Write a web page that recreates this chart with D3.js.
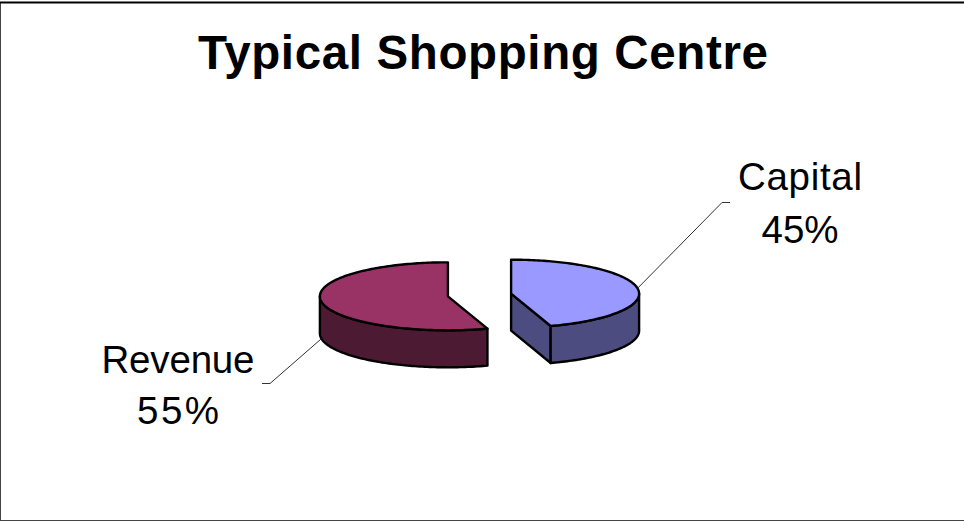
<!DOCTYPE html>
<html><head><meta charset="utf-8">
<script src="https://cdn.jsdelivr.net/npm/d3@7"></script>
<style>html,body{margin:0;padding:0;background:#fff;}svg{display:block;}</style>
</head><body>
<script>
// ---- data ----
const title = "Typical Shopping Centre";
const categories = ["Capital", "Revenue"];
const values = [45, 55];
const percentLabels = ["45%", "55%"];

// ---- styles / layout ----
const topColors = ["#9999ff", "#993366"];
const sideColors = ["#4c4c80", "#4c1a33"];
const W = 964, H = 522;
const cx = 479.5, cy = 295, rx = 128, ry = 34, depth = 37, explode = 32;
const font = "'Liberation Sans', Arial, sans-serif";
// label layout
const labelLayout = [
  {x: 800, b1: 189.5, b2: 242.5, w1: 124, w2: 77, ex0: 730, ex1: 722, ey: 202.5},
  {x: 178, b1: 372.5, b2: 424, w1: 153, w2: 82, ex0: 262, ex1: 270, ey: 383.5}
];

const svg = d3.select("body").append("svg").attr("width", W).attr("height", H);

// frame
svg.append("rect").attr("x", 0.5).attr("y", 2.5).attr("width", W + 2).attr("height", 518)
  .attr("fill", "#fff").attr("stroke", "#444").attr("stroke-width", 1);
svg.append("line").attr("x1", 0).attr("x2", W).attr("y1", 2.5).attr("y2", 2.5)
  .attr("stroke", "#000").attr("stroke-width", 2);

// title
svg.append("text").attr("x", 483).attr("y", 68.5).attr("text-anchor", "middle")
  .attr("font-family", font).attr("font-weight", "bold").attr("font-size", 47.5)
  .attr("textLength", 570).attr("lengthAdjust", "spacing")
  .attr("fill", "#000").text(title);

const pie = d3.pie().sort(null).startAngle(0).endAngle(2 * Math.PI);
const arcs = pie(values);

const line = d3.line();
function pt(c, a, dz) { return [c[0] + rx * Math.sin(a), c[1] - ry * Math.cos(a) + (dz || 0)]; }
function arcPts(c, a0, a1, dz) {
  const n = Math.max(2, Math.ceil((a1 - a0) / 0.02));
  return d3.range(n + 1).map(i => pt(c, a0 + (a1 - a0) * i / n, dz));
}

const g = svg.append("g");
const strokeW = 2.4;

arcs.forEach((d, i) => {
  const a0 = d.startAngle, a1 = d.endAngle, mid = (a0 + a1) / 2;
  const c = [cx + explode * Math.sin(mid), cy - explode * Math.cos(mid) * ry / rx];
  const sg = g.append("g");
  // radial faces
  [[a0, a0 - Math.PI / 2], [a1, a1 + Math.PI / 2]].forEach(([a, nrm]) => {
    if (Math.cos(nrm) < -1e-6) {
      const p = pt(c, a), q = pt(c, a, depth);
      sg.append("path").attr("d", line([c, p, q, [c[0], c[1] + depth]]) + "Z")
        .attr("fill", sideColors[i]).attr("stroke", "#000").attr("stroke-width", strokeW)
        .attr("stroke-linejoin", "round");
    }
  });
  // outer wall (front half)
  const w0 = Math.max(a0, Math.PI / 2), w1 = Math.min(a1, 3 * Math.PI / 2);
  if (w1 > w0) {
    const top = arcPts(c, w0, w1, 0), bot = arcPts(c, w0, w1, depth).reverse();
    sg.append("path").attr("d", line(top.concat(bot)) + "Z")
      .attr("fill", sideColors[i]).attr("stroke", "#000").attr("stroke-width", strokeW)
      .attr("stroke-linejoin", "round");
  }
  // top face
  sg.append("path").attr("d", line([c].concat(arcPts(c, a0, a1, 0))) + "Z")
    .attr("fill", topColors[i]).attr("stroke", "#000").attr("stroke-width", strokeW)
    .attr("stroke-linejoin", "round");

  // leader line
  const L = labelLayout[i];
  const anchor = pt(c, mid, Math.cos(mid) < 0 ? depth : 0);
  svg.append("path").attr("d", line([[L.ex0, L.ey], [L.ex1, L.ey], anchor]))
    .attr("fill", "none").attr("stroke", "#333").attr("stroke-width", 1);

  // labels
  const t = svg.append("g").attr("font-family", font).attr("font-size", 38.5)
    .attr("fill", "#000").attr("text-anchor", "middle");
  t.append("text").attr("x", L.x).attr("y", L.b1).attr("textLength", L.w1)
    .attr("lengthAdjust", "spacing").text(categories[i]);
  t.append("text").attr("x", L.x).attr("y", L.b2).attr("textLength", L.w2)
    .attr("lengthAdjust", "spacing").text(percentLabels[i]);
});
</script>
</body></html>
